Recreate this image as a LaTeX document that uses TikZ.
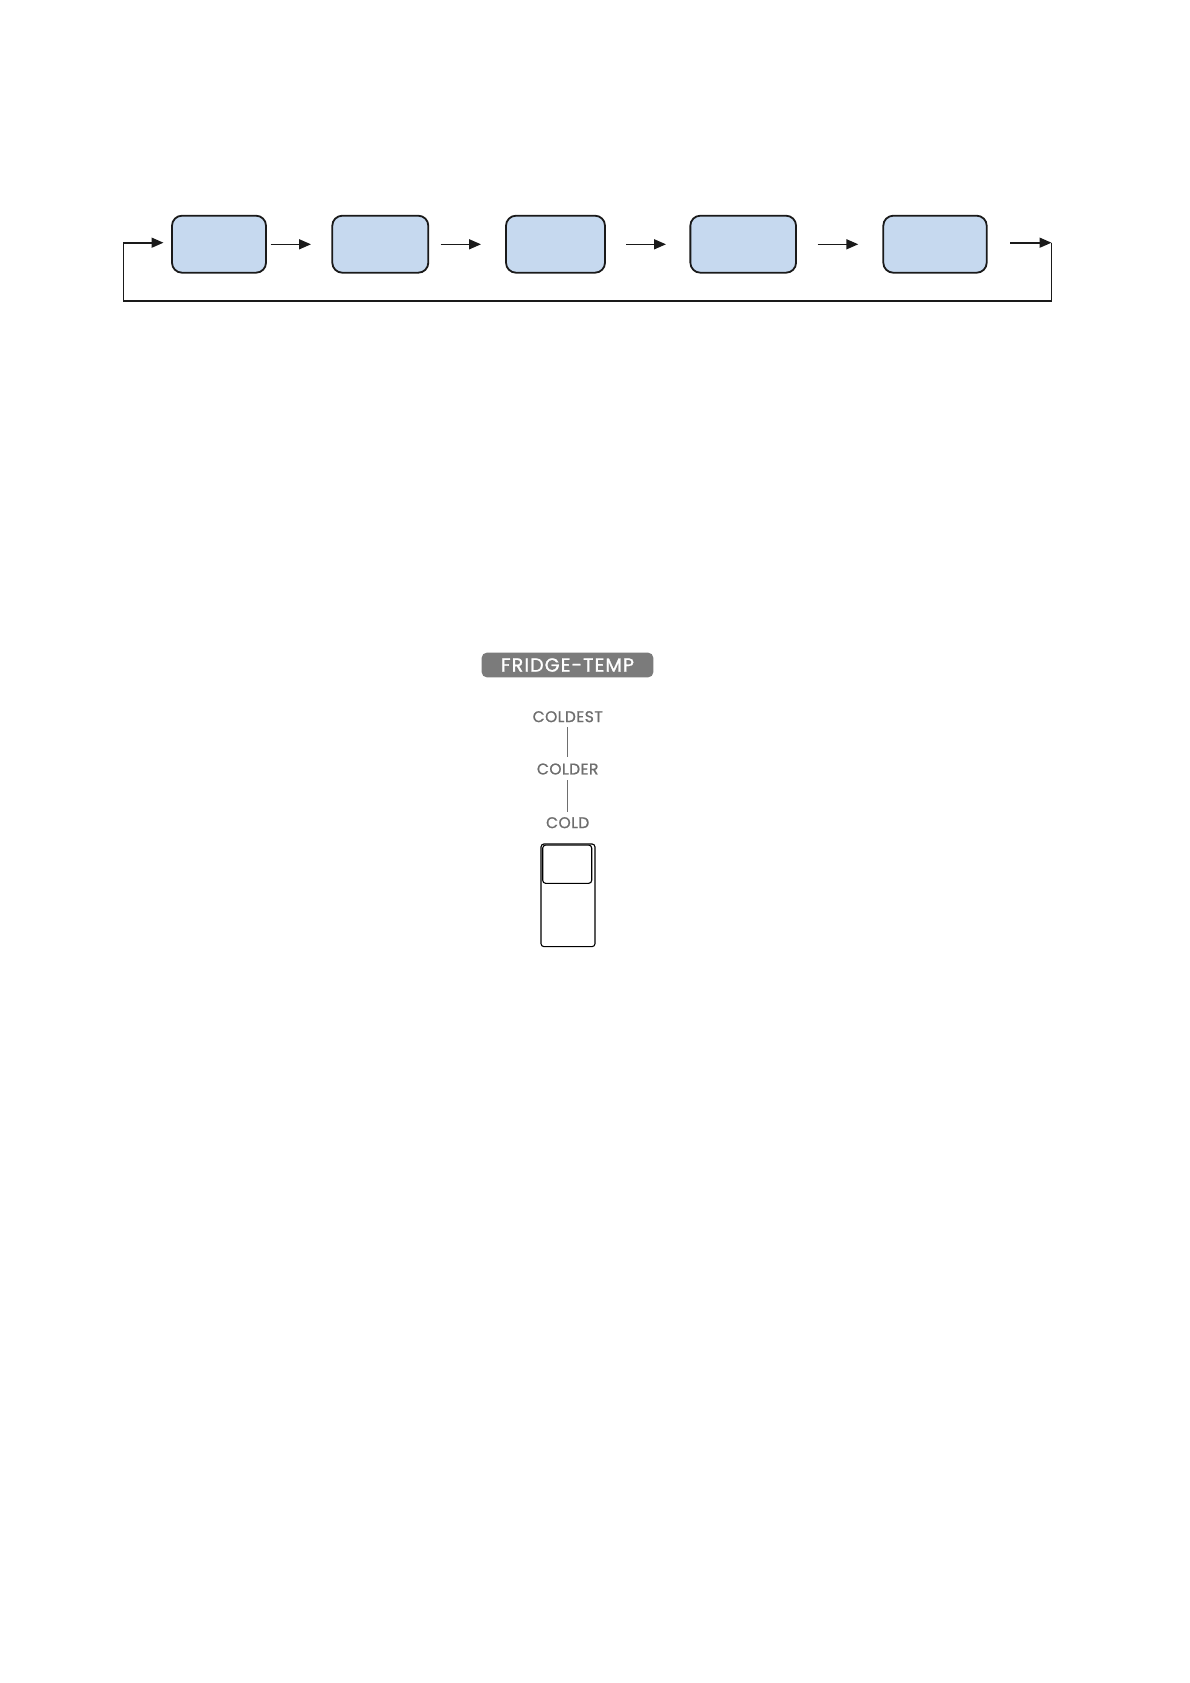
\documentclass[tikz,border=0pt]{standalone}
\usepackage{fontspec}
\setmainfont{Poppins}
\newfontfamily\pillfont[LetterSpace=6,FakeBold=1.2]{Poppins}
\newfontfamily\labfont[LetterSpace=3,FakeBold=1.0]{Poppins}
\usetikzlibrary{arrows.meta}
\definecolor{boxblue}{HTML}{C6D9EF}
\definecolor{edge}{HTML}{1A1A1A}
\definecolor{pillgray}{HTML}{7B7B7B}
\definecolor{labgray}{HTML}{6E6E6E}
\tikzset{
  flowbox/.style={draw=edge,fill=boxblue,line width=1.8pt,rounded corners=10pt,minimum height=57pt,inner sep=0pt},
  flowarrow/.style={draw=edge,line width=1.6pt,-{Triangle[length=12pt,width=10pt]}},
  loopline/.style={draw=edge,line width=1.3pt},
  lab/.style={text=labgray,font=\labfont\fontsize{15.5}{17}\selectfont,inner sep=0pt},
  tick/.style={draw=labgray,line width=0.9pt},
  slider/.style={draw=black,line width=1.1pt,rounded corners=3pt}
}
\begin{document}
\begin{tikzpicture}[x=1pt,y=-1pt]
\useasboundingbox (0,0) rectangle (1190,1683);
% boxes
\node[flowbox,minimum width=94pt] (b1) at (219,244.2) {};
\node[flowbox,minimum width=96pt] (b2) at (380.3,244.2) {};
\node[flowbox,minimum width=99pt] (b3) at (555.5,244.2) {};
\node[flowbox,minimum width=105.7pt] (b4) at (743.2,244.2) {};
\node[flowbox,minimum width=103.4pt] (b5) at (935,244.2) {};
% arrow coordinates
\coordinate (a2s) at (270.7,244.3); \coordinate (a2e) at (311,244.3);
\coordinate (a3s) at (440.7,244.3); \coordinate (a3e) at (481,244.3);
\coordinate (a4s) at (626,244.3);   \coordinate (a4e) at (666,244.3);
\coordinate (a5s) at (817.7,244.3); \coordinate (a5e) at (858.3,244.3);
\coordinate (a6s) at (1010,242.7);  \coordinate (a6e) at (1051.5,242.7);
\coordinate (lr) at (1051.5,301);
\coordinate (ll) at (123.3,301);
\coordinate (lt) at (123.3,242.7);
\coordinate (a1e) at (163.5,242.7);
\draw[flowarrow] (a2s) -- (a2e);
\draw[flowarrow] (a3s) -- (a3e);
\draw[flowarrow] (a4s) -- (a4e);
\draw[flowarrow] (a5s) -- (a5e);
\draw[flowarrow] (a6s) -- (a6e);
\draw[loopline] (a6e) -- (lr) -- (ll) -- (lt);
\draw[flowarrow] (lt) -- (a1e);
% fridge temp
\node[fill=pillgray,rounded corners=5pt,minimum width=171.6pt,minimum height=24.6pt,inner sep=0pt,
      text=white,font=\pillfont\fontsize{19}{21}\selectfont] (pill) at (567.5,665) {FRIDGE-TEMP};
\node[lab] (coldest) at (567.7,716.7) {COLDEST};
\node[lab] (colder) at (567.7,769) {COLDER};
\node[lab] (cold) at (567.7,822.7) {COLD};
\coordinate (t1a) at (567.7,727); \coordinate (t1b) at (567.7,757);
\coordinate (t2a) at (567.7,780); \coordinate (t2b) at (567.7,811.7);
\draw[tick] (t1a) -- (t1b);
\draw[tick] (t2a) -- (t2b);
\node[slider,minimum width=54pt,minimum height=102.7pt,inner sep=0pt] (outer) at (568,895.3) {};
\node[slider,minimum width=49pt,minimum height=38.3pt,inner sep=0pt] (inner) at (567.2,864.2) {};
\end{tikzpicture}
\end{document}
